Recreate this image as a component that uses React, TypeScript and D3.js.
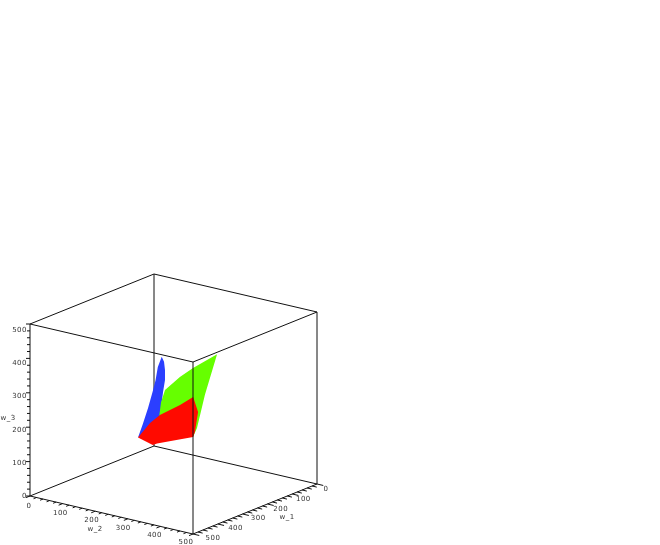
import React, { useEffect, useRef } from 'react';
import * as d3 from 'd3';

type P3 = [number, number, number];

// surfaces as [w_1, w_2, w_3]
const blueSurface: P3[] = [
    [350, 290, 425], [350, 297, 412], [350, 300, 389], [350, 300, 360], [350, 294, 324], [350, 285, 252],
    [350, 238, 195], [350, 217, 174], [350, 232, 217], [350, 248, 267], [350, 262, 317], [350, 271, 353], [350, 278, 393],
];
const greenSurface: P3[] = [
    [140, 300, 374], [237, 300, 362], [290, 300, 351], [350, 300, 331], [366, 300, 300],
    [378, 300, 237], [237, 300, 161], [221, 300, 183], [189, 300, 270],
];
const redSurface: P3[] = [
    [351, 218, 175], [377, 283, 175], [361, 284, 175], [267, 323, 175], [232, 302, 175],
    [101, 212, 175], [13, 130, 175], [83, 143, 175], [176, 152, 175], [242, 172, 175],
];
const surfaceColors = ['#2b3fff', '#66ff00', '#ff0a00'];
const axisTicks = [0, 100, 200, 300, 400, 500];

export default function App() {
    const ref = useRef<SVGSVGElement>(null);

    useEffect(() => {
        const svg = d3.select(ref.current);
        svg.selectAll('*').remove();

        // each axis gives a screen offset from the w=0 corner
        const x1 = d3.scaleLinear().domain([0, 500]).range([0, -124]);
        const y1 = d3.scaleLinear().domain([0, 500]).range([0, 50]);
        const x2 = d3.scaleLinear().domain([0, 500]).range([0, 163]);
        const y2 = d3.scaleLinear().domain([0, 500]).range([0, 38]);
        const y3 = d3.scaleLinear().domain([0, 500]).range([0, -172]);
        const project = ([a, b, c]: P3): [number, number] => [154 + x1(a) + x2(b), 446 + y1(a) + y2(b) + y3(c)];

        const edge = (from: P3, to: P3) => {
            const a = project(from);
            const b = project(to);
            svg.append('line')
                .attr('x1', a[0]).attr('y1', a[1])
                .attr('x2', b[0]).attr('y2', b[1])
                .attr('stroke', '#111')
                .attr('stroke-width', 1);
        };

        const boxBack: [P3, P3][] = [
            [[0, 0, 0], [500, 0, 0]], [[0, 0, 0], [0, 500, 0]], [[0, 0, 0], [0, 0, 500]],
            [[0, 0, 500], [500, 0, 500]], [[0, 0, 500], [0, 500, 500]],
            [[0, 500, 0], [0, 500, 500]], [[500, 0, 0], [500, 0, 500]],
        ];
        const boxFront: [P3, P3][] = [
            [[500, 0, 0], [500, 500, 0]], [[0, 500, 0], [500, 500, 0]],
            [[500, 500, 0], [500, 500, 500]],
            [[500, 0, 500], [500, 500, 500]], [[0, 500, 500], [500, 500, 500]],
        ];
        boxBack.forEach(([a, b]) => edge(a, b));

        const path = d3.line<P3>().x((d) => project(d)[0]).y((d) => project(d)[1]).curve(d3.curveLinearClosed);
        [blueSurface, greenSurface, redSurface].forEach((s, i) => {
            svg.append('path').attr('d', path(s)).attr('fill', surfaceColors[i]);
        });

        boxFront.forEach(([a, b]) => edge(a, b));

        // minor ticks every 20, majors every 100
        const minor = d3.range(0, 501, 20);
        minor.forEach((v) => {
            const len = v % 100 === 0 ? 16 : 12;
            edge([500 + len, v, 0], [500, v, 0]);
            edge([v, 500 + len * 1.2, 0], [v, 500, 0]);
            const p = project([500, 0, v]);
            svg.append('line')
                .attr('x1', p[0] - (v % 100 === 0 ? 4 : 3)).attr('y1', p[1])
                .attr('x2', p[0]).attr('y2', p[1])
                .attr('stroke', '#111');
        });

        const label = (x: number, y: number, s: string, anchor = 'middle') =>
            svg.append('text')
                .attr('x', x).attr('y', y)
                .attr('dy', '0.35em')
                .attr('text-anchor', anchor)
                .attr('font-family', 'DejaVu Sans')
                .attr('font-size', 7)
                .attr('letter-spacing', 0.5)
                .attr('fill', '#333')
                .text(s);

        const labelW2x = d3.scaleLinear().domain([0, 500]).range([29, 186]);
        const labelW2y = d3.scaleLinear().domain([0, 500]).range([505.5, 541.5]);
        const labelW1x = d3.scaleLinear().domain([0, 500]).range([326, 213]);
        const labelW1y = d3.scaleLinear().domain([0, 500]).range([488.5, 537.5]);
        const labelW3y = d3.scaleLinear().domain([0, 500]).range([495.5, 329.5]);
        axisTicks.forEach((v) => {
            label(labelW2x(v), labelW2y(v), String(v));
            label(labelW1x(v), labelW1y(v), String(v));
            label(27, labelW3y(v), String(v), 'end');
        });
        label(95, 528.5, 'w_2');
        label(287, 516.5, 'w_1');
        label(8, 418, 'w_3');
    }, []);

    return <svg ref={ref} width={660} height={545} style={{ position: 'absolute', left: 0, top: 0, filter: 'blur(0.3px)' }} />;
}
